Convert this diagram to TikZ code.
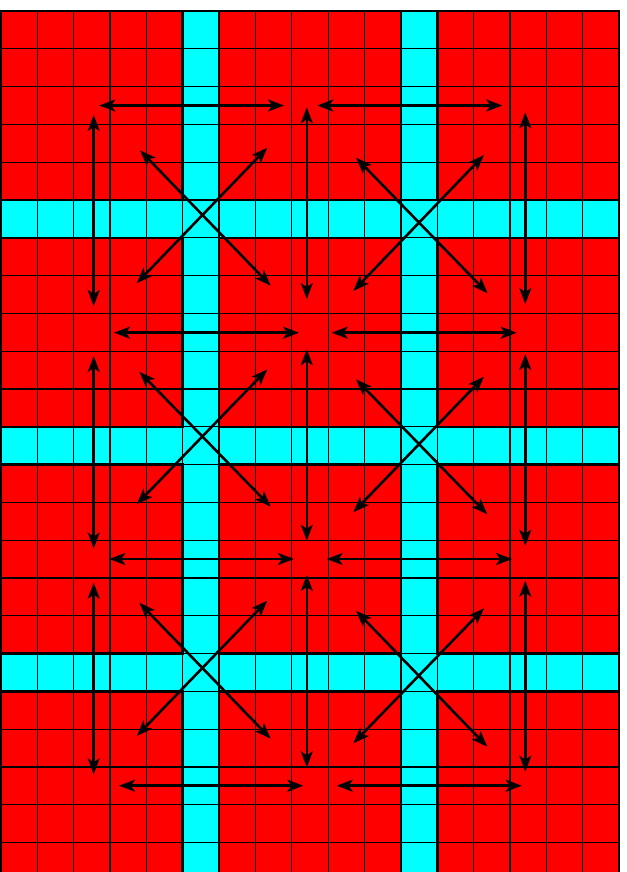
\documentclass[tikz,border=0pt]{standalone}
\usetikzlibrary{arrows.meta}
\definecolor{cellred}{RGB}{255,0,0}
\definecolor{cellcyan}{RGB}{0,255,255}
\begin{document}
\begin{tikzpicture}[x=1pt,y=-1pt,
  thingrid/.style={draw=black,line width=1.3pt},
  blockbox/.style={draw=black,line width=2.6pt},
  arr/.style={line width=2.6pt,{Stealth[length=16pt,width=12pt,inset=4pt]}-{Stealth[length=16pt,width=12pt,inset=4pt]}}]
\useasboundingbox (0,0) rectangle (626,872);
\clip (0,0) rectangle (626,872);
\def\W{36.353}\def\H{37.8}
\fill[cellred] (1,11) rectangle (619,880.4);
\foreach \c in {5,11} \fill[cellcyan] ({1+\c*\W},11) rectangle ({1+(\c+1)*\W},880.4);
\foreach \r in {5,11,17} \fill[cellcyan] (1,{11+\r*\H}) rectangle (619,{11+(\r+1)*\H});
\foreach \c in {0,...,17} \draw[thingrid] ({1+\c*\W},11) -- ({1+\c*\W},880.4);
\foreach \r in {0,...,23} \draw[thingrid] (1,{11+\r*\H}) -- (619,{11+\r*\H});
\foreach \c in {0,6,12} \foreach \r in {0,6,12,18}
  \draw[blockbox] ({1+\c*\W},{11+\r*\H}) rectangle ({1+(\c+5)*\W},{11+(\r+5)*\H});
% arrows
\foreach \n/\ax/\ay/\bx/\by in {
  hA/99.3/105.5/284/105.5, hB/317.3/105.5/502.3/105.5,
  hC/114/332.7/299/332.7, hD/331.7/332.7/516.7/332.7,
  hE/109.3/559/294/559, hF/326.7/559/512/559,
  hG/119/785.7/303.3/785.7, hH/336.7/785.7/521.7/785.7,
  vA/93.7/115/93.7/306, vB/306.8/107.3/306.8/299, vC/525.3/112.3/525.3/304,
  vD/93.7/356/93.7/548.5, vE/306.8/349.3/306.8/540.7, vF/525.3/354/525.3/545.7,
  vG/93.7/582.7/93.7/774.3, vH/306.8/575/306.8/767.3, vI/525.3/580.7/525.3/771.7,
  dA/140/150.3/270.7/285.7, eA/267.3/147.7/136.7/283.3,
  dB/356/157.7/487.7/293.3, eB/484/155/353.3/291,
  dC/139.3/371.7/270.7/506.7, eC/267.3/369.3/136.7/504.3,
  dD/356/379.3/487.3/514.3, eD/484/376.7/353.3/512.3,
  dE/139.3/602.7/270.7/738.7, eE/267.3/600.7/136.7/736,
  dF/356/610.7/487.3/746.7, eF/484/608.3/353.3/743.3}
{
  \coordinate (\n-s) at (\ax,\ay);
  \coordinate (\n-t) at (\bx,\by);
  \draw[arr] (\n-s) -- (\n-t);
}
\end{tikzpicture}
\end{document}
